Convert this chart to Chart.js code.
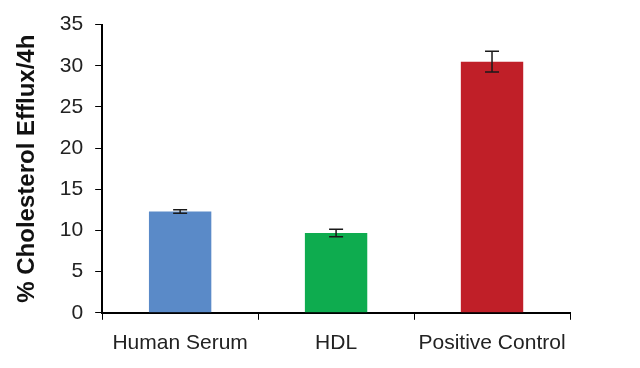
<!DOCTYPE html>
<html>
<head>
<meta charset="utf-8">
<script src="https://cdn.jsdelivr.net/npm/chart.js@4/dist/chart.umd.min.js"></script>
<style>
  html, body { margin: 0; padding: 0; background: #fff; }
  #wrap { width: 640px; height: 368px; }
</style>
</head>
<body>
<div id="wrap"><canvas id="effluxChart"></canvas></div>
<script>
const categories = ['Human Serum', 'HDL', 'Positive Control'];
const effluxValues = [12.3, 9.7, 30.5];
const effluxErrors = [0.2, 0.45, 1.27];
const barColors = ['#5a8ac8', '#0eac4f', '#c01f28'];
const yTicks = [0, 5, 10, 15, 20, 25, 30, 35];

// draws the error bars from the data through the y scale
const errorBars = {
  id: 'errorBars',
  afterDatasetsDraw(chart) {
    const ctx = chart.ctx;
    const meta = chart.getDatasetMeta(0);
    const y = chart.scales.y;
    ctx.save();
    ctx.strokeStyle = '#1a1a1a';
    ctx.lineWidth = 1.5;
    meta.data.forEach((bar, i) => {
      const v = effluxValues[i], e = effluxErrors[i];
      const top = y.getPixelForValue(v + e);
      const bot = y.getPixelForValue(v - e);
      const x = bar.x;
      ctx.beginPath();
      ctx.moveTo(x, top); ctx.lineTo(x, bot);
      ctx.moveTo(x - 7, top); ctx.lineTo(x + 7, top);
      ctx.moveTo(x - 7, bot); ctx.lineTo(x + 7, bot);
      ctx.stroke();
    });
    ctx.restore();
  }
};

new Chart(document.getElementById('effluxChart'), {
  type: 'bar',
  data: {
    labels: categories,
    datasets: [{
      data: effluxValues,
      backgroundColor: barColors,
      borderWidth: 0,
      barPercentage: 0.4,
      categoryPercentage: 1
    }]
  },
  options: {
    responsive: true,
    maintainAspectRatio: false,
    animation: false,
    layout: { padding: { top: 14, right: 70, bottom: 1, left: 13 } },
    plugins: {
      legend: { display: false },
      tooltip: { enabled: false }
    },
    scales: {
      x: {
        grid: { drawOnChartArea: false, drawTicks: true, tickLength: 7, color: '#000', offset: true },
        border: { color: '#000', width: 2 },
        ticks: { color: '#222', font: { family: 'Liberation Sans', size: 21 }, padding: 11, maxRotation: 0, autoSkip: false }
      },
      y: {
        min: 0,
        max: 35,
        afterBuildTicks: axis => { axis.ticks = yTicks.map(v => ({ value: v })); },
        grid: { drawOnChartArea: false, drawTicks: true, tickLength: 7, color: '#000' },
        border: { color: '#000', width: 2 },
        ticks: { color: '#222', font: { family: 'Liberation Sans', size: 21 }, padding: 12 },
        title: {
          display: true,
          text: '% Cholesterol Efflux/4h',
          color: '#111',
          font: { family: 'Liberation Sans', size: 24, weight: 'bold' },
          padding: { top: 0, bottom: 6 }
        }
      }
    }
  },
  plugins: [errorBars]
});
</script>
</body>
</html>
